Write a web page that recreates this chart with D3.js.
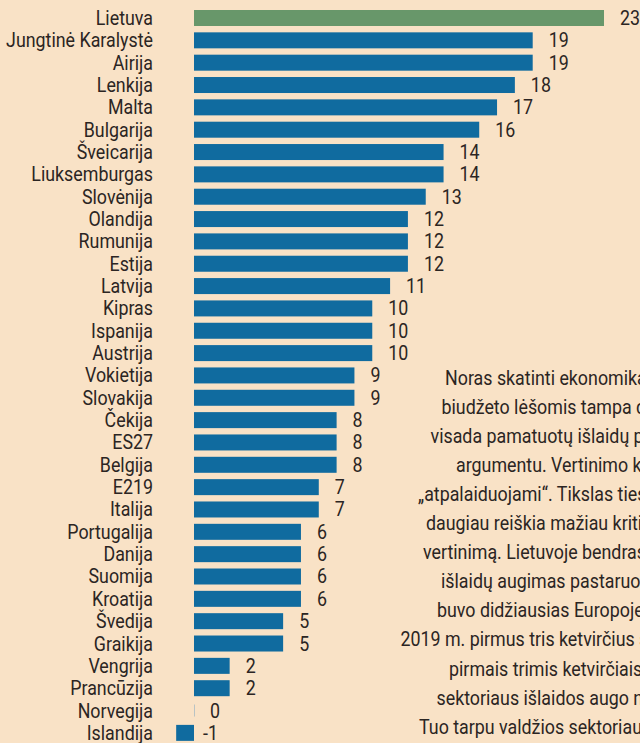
<!DOCTYPE html>
<html>
<head>
<meta charset="utf-8">
<script src="https://cdn.jsdelivr.net/npm/d3@7"></script>
<style>
  html, body { margin: 0; padding: 0; background: #f9e2c6; overflow: hidden; }
  svg { display: block; }
  text { font-family: Roboto, "Noto Sans", sans-serif; fill: #2b2523; }
</style>
</head>
<body>
<div id="chart"></div>
<script>
var countries = ["Lietuva", "Jungtinė Karalystė", "Airija", "Lenkija", "Malta", "Bulgarija",
	"Šveicarija", "Liuksemburgas", "Slovėnija", "Olandija", "Rumunija", "Estija", "Latvija",
	"Kipras", "Ispanija", "Austrija", "Vokietija", "Slovakija", "Čekija", "ES27", "Belgija",
	"E219", "Italija", "Portugalija", "Danija", "Suomija", "Kroatija", "Švedija", "Graikija",
	"Vengrija", "Prancūzija", "Norvegija", "Islandija"];
var values = [23, 19, 19, 18, 17, 16, 14, 14, 13, 12, 12, 12, 11, 10, 10, 10, 9, 9, 8, 8, 8,
	7, 7, 6, 6, 6, 6, 5, 5, 2, 2, 0, -1];
var highlight = "Lietuva";

// side note, cut off by the right edge in the original
var noteLines = [
	"Noras skatinti ekonomiką valstybės",
	"biudžeto lėšomis tampa dažnai ne",
	"visada pamatuotų išlaidų plėtros",
	"argumentu. Vertinimo kriterijai",
	"„atpalaiduojami“. Tikslas tiesiog",
	"daugiau reiškia mažiau kritišką",
	"vertinimą. Lietuvoje bendrasis",
	"išlaidų augimas pastaruosius metus",
	"buvo didžiausias Europoje. Per",
	"2019 m. pirmus tris ketvirčius santykinai",
	"pirmais trimis ketvirčiais, valdžios",
	"sektoriaus išlaidos augo net",
	"Tuo tarpu valdžios sektoriaus pajamos"
];
var noteLeft = [445, 441.5, 430.5, 456, 418, 426, 423, 441, 437, 400.5, 449, 436.5, 419];

var width = 640, height = 743;
var fontSize = 19.5;

var svg = d3.select("#chart").append("svg")
	.attr("width", width)
	.attr("height", height);

var x = d3.scaleLinear().domain([0, 23]).range([194, 604]);

var step = 22.34;
var y = d3.scaleBand()
	.domain(countries)
	.range([10 - 0.142 * step, 10 - 0.142 * step + countries.length * step])
	.paddingInner(0.284)
	.paddingOuter(0.142);

// work out how much to squeeze Roboto so it looks like the condensed face
var probe = svg.append("text").style("font-size", fontSize + "px").text("Jungtinė Karalystė");
var squeeze = 147 / probe.node().getComputedTextLength();
probe.remove();

var rows = svg.selectAll(".row")
	.data(countries.map(function(c, i) { return { name: c, value: values[i] }; }))
	.enter().append("g")
	.attr("class", "row");

rows.append("rect")
	.attr("x", function(d) { return x(Math.min(0, d.value)); })
	.attr("y", function(d) { return y(d.name); })
	.attr("width", function(d) { return Math.abs(x(d.value) - x(0)); })
	.attr("height", y.bandwidth())
	.style("fill", function(d) { return d.name == highlight ? "#68976a" : "#106b9f"; });

// zero value gets a hairline
rows.filter(function(d) { return d.value == 0; })
	.append("line")
	.attr("x1", x(0) + 0.5).attr("x2", x(0) + 0.5)
	.attr("y1", function(d) { return y(d.name) + 2; })
	.attr("y2", function(d) { return y(d.name) + y.bandwidth() - 2; })
	.style("stroke", "#b9c3c4")
	.style("stroke-width", 1);

rows.append("text")
	.attr("transform", function(d) {
		return "translate(153," + (y(d.name) + y.bandwidth() - 1) + ") scale(" + squeeze + ",1)";
	})
	.attr("text-anchor", "end")
	.style("font-size", fontSize + "px")
	.text(function(d) { return d.name; });

rows.append("text")
	.attr("transform", function(d) {
		var tx = d.value < 0 ? x(0) + 9 : x(d.value) + 16;
		return "translate(" + tx + "," + (y(d.name) + y.bandwidth() - 1) + ") scale(" + squeeze + ",1)";
	})
	.style("font-size", fontSize + "px")
	.text(function(d) { return d.value; });

svg.selectAll(".note")
	.data(noteLines)
	.enter().append("text")
	.attr("class", "note")
	.attr("transform", function(d, i) {
		return "translate(" + noteLeft[i] + "," + (384.5 + i * 29.1) + ") scale(" + squeeze + ",1)";
	})
	.style("font-size", fontSize + "px")
	.text(function(d) { return d; });
</script>
</body>
</html>
